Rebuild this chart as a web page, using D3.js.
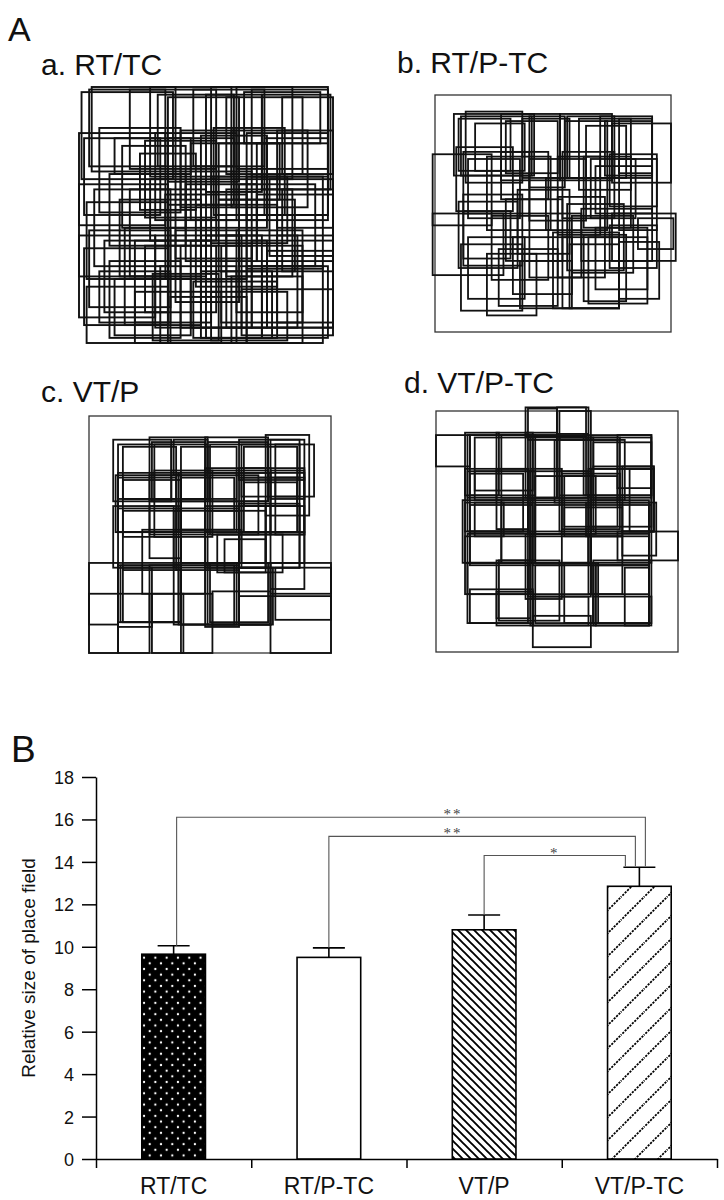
<!DOCTYPE html>
<html>
<head>
<meta charset="utf-8">
<script src="https://cdn.jsdelivr.net/npm/d3@7"></script>
<style>
body { margin: 0; background: #fff; }
svg text { font-family: "Liberation Sans", Arial, Helvetica, sans-serif; fill: #111; }
</style>
</head>
<body>
<svg id="fig" width="724" height="1200"></svg>
<script>
// ---------- B: bar chart data ----------
const groups = ['RT/TC', 'RT/P-TC', 'VT/P', 'VT/P-TC'];
const means = [9.65, 9.5, 10.8, 12.85];
const sems = [0.4, 0.45, 0.7, 0.9];
const yTicks = [0, 2, 4, 6, 8, 10, 12, 14, 16, 18];
// [from, to, bracket height, label]
const comparisons = [[0, 3, 16.1, '**'], [1, 3, 15.2, '**'], [2, 3, 14.3, '*']];

// ---------- A: place fields, [x, y, w, h] in % of the arena ----------
const titlesA = ['a. RT/TC', 'b. RT/P-TC', 'c. VT/P', 'd. VT/P-TC'];

const fieldsRTTC = [
  [1, 2, 36, 34], [4, 1, 30, 30], [28, 0, 32, 35], [35, 4, 28, 33], [45, 1, 28, 30], [50, 3, 22, 38],
  [62, 0, 36, 32], [65, 2, 30, 20], [72, 3, 27, 37], [80, 4, 20, 30],
  [0, 18, 34, 36], [2, 20, 30, 30], [14, 20, 30, 14], [17, 23, 25, 32], [24, 26, 22, 22], [30, 18, 32, 34],
  [35, 20, 26, 26], [40, 17, 22, 30], [48, 19, 26, 36], [55, 22, 24, 22], [60, 17, 30, 30], [66, 18, 32, 34],
  [70, 22, 28, 28], [78, 17, 22, 38],
  [0, 38, 35, 36], [3, 45, 32, 30], [12, 34, 30, 28], [20, 40, 30, 34], [28, 36, 26, 24], [34, 42, 32, 33],
  [42, 38, 28, 30], [46, 46, 32, 32], [52, 35, 30, 26], [58, 40, 26, 34], [63, 38, 30, 32], [70, 42, 30, 26],
  [75, 36, 25, 30],
  [0, 58, 30, 32], [2, 63, 33, 30], [10, 60, 25, 28], [18, 55, 30, 38], [26, 62, 28, 26], [30, 58, 34, 36],
  [38, 56, 25, 28], [44, 60, 30, 34], [50, 58, 22, 40], [56, 62, 32, 30], [62, 56, 26, 32], [68, 60, 32, 34],
  [74, 64, 26, 30],
  [3, 78, 32, 22], [8, 72, 28, 20], [14, 75, 30, 22], [22, 80, 34, 20], [29, 73, 26, 26], [36, 82, 30, 18],
  [45, 76, 33, 22], [52, 80, 30, 19], [60, 74, 28, 26], [64, 79, 36, 18], [72, 70, 26, 28],
  [5, 0, 33, 33], [20, 1, 34, 31], [31, 3, 30, 28], [52, 0, 32, 36], [58, 4, 30, 30], [68, 1, 30, 34],
  [8, 16, 32, 33], [26, 21, 28, 30], [44, 22, 30, 30], [53, 16, 28, 34], [73, 20, 25, 30],
  [6, 40, 30, 30], [16, 44, 32, 30], [38, 33, 30, 34], [55, 44, 30, 28], [66, 35, 30, 36], [80, 40, 20, 32],
  [4, 56, 32, 30], [22, 60, 30, 32], [40, 62, 28, 32], [58, 58, 28, 36], [78, 58, 22, 34],
  [12, 68, 28, 30], [32, 70, 30, 30], [48, 72, 28, 26], [66, 70, 30, 30]
];

const fieldsRTPTC = [
  [8, 8, 34, 26], [13, 7, 24, 30], [10, 10, 22, 22], [17, 12, 21, 20], [28, 8, 25, 28], [37, 10, 20, 25],
  [40, 9, 15, 30], [53, 8, 22, 28], [55, 11, 18, 24], [61, 10, 22, 30], [64, 13, 17, 22], [70, 9, 22, 26],
  [75, 12, 25, 25], [78, 10, 14, 23],
  [-1, 25, 25, 30], [9, 22, 24, 27], [14, 27, 22, 25], [22, 26, 27, 31], [28, 24, 20, 20], [40, 27, 24, 26],
  [47, 35, 26, 22], [52, 26, 18, 33], [63, 26, 20, 30], [66, 27, 19, 25], [74, 25, 20, 22], [78, 27, 16, 30],
  [-1, 50, 30, 26], [10, 45, 25, 28], [12, 49, 20, 20], [24, 51, 24, 27], [35, 40, 22, 27], [40, 50, 22, 27],
  [52, 43, 20, 34], [58, 51, 26, 24], [62, 48, 30, 22], [75, 50, 27, 20], [86, 52, 15, 13],
  [11, 63, 26, 28], [22, 67, 21, 26], [27, 65, 25, 24], [33, 60, 25, 24], [50, 58, 28, 32], [57, 63, 21, 27],
  [63, 59, 18, 28], [65, 60, 25, 28], [78, 62, 17, 24], [74, 55, 20, 18],
  [11, 9, 30, 25], [30, 11, 22, 22], [56, 9, 20, 26], [72, 11, 20, 23], [12, 24, 28, 26], [54, 24, 22, 28],
  [68, 30, 24, 20], [12, 42, 25, 30], [30, 44, 24, 26], [56, 46, 24, 28], [68, 56, 22, 26], [14, 60, 24, 26],
  [54, 60, 24, 30], [36, 70, 22, 20]
];

const fieldsVTP = [
  [10, 10, 24, 26], [14, 13, 22, 22], [12, 24, 25, 25], [25, 9, 24, 27], [27, 12, 22, 23], [35, 10, 14, 15],
  [38, 13, 23, 22], [48, 9, 26, 14], [50, 12, 24, 24], [62, 10, 25, 16], [64, 13, 22, 25], [73, 8, 18, 34],
  [77, 12, 16, 22], [62, 22, 27, 5],
  [11, 25, 27, 24], [14, 27, 24, 24], [25, 25, 23, 25], [27, 23, 24, 28], [38, 26, 22, 22], [48, 22, 27, 27],
  [50, 25, 20, 25], [62, 24, 27, 25], [64, 28, 22, 21], [75, 23, 14, 27], [77, 26, 12, 24],
  [10, 38, 25, 26], [14, 40, 24, 25], [22, 48, 26, 27], [25, 38, 13, 22], [35, 40, 27, 24], [38, 48, 25, 14],
  [48, 38, 25, 26], [53, 50, 27, 16], [56, 52, 17, 14], [62, 37, 25, 27], [73, 38, 16, 24], [75, 49, 14, 24],
  [0, 62, 12, 26], [12, 62, 26, 25], [14, 64, 24, 23], [25, 63, 13, 24], [35, 63, 25, 25], [38, 62, 23, 26],
  [48, 63, 14, 26], [50, 62, 24, 25], [62, 64, 14, 24], [75, 62, 25, 13], [77, 64, 23, 22],
  [0, 75, 12, 25], [12, 75, 13, 25], [26, 75, 13, 25], [38, 75, 13, 25], [75, 76, 25, 24], [62, 76, 13, 12],
  [12, 12, 22, 23], [26, 11, 22, 25], [49, 11, 25, 25], [63, 12, 24, 22], [75, 10, 14, 25], [12, 26, 24, 23],
  [37, 24, 24, 25], [49, 24, 26, 26], [63, 26, 24, 23], [12, 39, 25, 24], [36, 39, 26, 26], [49, 40, 24, 24],
  [63, 38, 24, 26], [13, 63, 24, 24], [37, 63, 25, 25], [49, 62, 26, 26], [12, 64, 14, 25], [51, 74, 24, 14]
];

const fieldsVTPTC = [
  [37, -1.5, 25, 12], [38, -1, 12, 13], [50, -1.5, 13, 11], [51, 0, 13, 12],
  [0, 10, 14, 13], [12, 9, 14, 26], [14, 10, 27, 25], [16, 11, 24, 22], [25, 9, 15, 28], [27, 10, 24, 26],
  [37, 9, 13, 27], [39, 11, 24, 25], [49, 12, 26, 26], [51, 11, 14, 24], [61, 10, 28, 25], [64, 12, 14, 25],
  [75, 10, 14, 22], [65, 13, 24, 23],
  [12, 24, 26, 26], [14, 26, 22, 24], [16, 25, 25, 12], [25, 24, 13, 25], [39, 24, 13, 27], [41, 27, 25, 24],
  [51, 25, 12, 25], [53, 27, 22, 21], [63, 24, 26, 24], [65, 23, 25, 27], [77, 23, 13, 27], [80, 24, 10, 26],
  [11, 37, 16, 26], [14, 39, 26, 24], [16, 38, 12, 14], [27, 38, 14, 25], [39, 38, 25, 25], [41, 39, 22, 24],
  [53, 40, 24, 12], [62, 38, 26, 14], [64, 37, 24, 27], [77, 38, 14, 22], [75, 50, 25, 12],
  [12, 52, 27, 24], [14, 50, 25, 14], [25, 62, 14, 24], [26, 62, 25, 25], [37, 51, 15, 27], [39, 52, 25, 24],
  [41, 64, 24, 24], [53, 63, 14, 25], [63, 52, 14, 24], [65, 62, 24, 26], [66, 64, 22, 25], [78, 65, 10, 24],
  [14, 74, 26, 14], [25, 75, 15, 14], [39, 77, 24, 12], [40, 85, 24, 13], [65, 77, 24, 12],
  [13, 10, 26, 26], [38, 10, 25, 26], [50, 11, 26, 25], [62, 11, 27, 24], [13, 25, 26, 25], [38, 25, 26, 26],
  [52, 26, 24, 23], [64, 24, 25, 26], [12, 38, 27, 25], [40, 37, 24, 27], [63, 39, 26, 24], [13, 51, 26, 25],
  [38, 50, 26, 27], [64, 51, 24, 25], [13, 63, 25, 25], [40, 63, 26, 26], [65, 64, 23, 24]
];

const svg = d3.select('#fig');

// ---------- panel A ----------
svg.append('text').attr('x', 8).attr('y', 41).style('font-size', '34px').text('A');

// box = arena in pixels [x0, y0, x1, y1]; title anchor
const panels = [
  { title: titlesA[0], fields: fieldsRTTC, box: [79, 87, 333, 343], frame: false, tx: 41, ty: 75, sw: 1.9 },
  { title: titlesA[1], fields: fieldsRTPTC, box: [435, 95, 671, 332], frame: true, tx: 397, ty: 73, sw: 1.8 },
  { title: titlesA[2], fields: fieldsVTP, box: [89, 416, 331, 653], frame: true, tx: 41, ty: 402, sw: 1.8 },
  { title: titlesA[3], fields: fieldsVTPTC, box: [436, 411, 678, 652], frame: true, tx: 404, ty: 393, sw: 1.8 }
];

panels.forEach(p => {
  const sx = d3.scaleLinear().domain([0, 100]).range([p.box[0], p.box[2]]);
  const sy = d3.scaleLinear().domain([0, 100]).range([p.box[1], p.box[3]]);
  const g = svg.append('g');

  g.append('text').attr('x', p.tx).attr('y', p.ty).style('font-size', '30px').text(p.title);

  if (p.frame) {
    g.append('rect')
      .attr('x', sx(0)).attr('y', sy(0))
      .attr('width', sx(100) - sx(0)).attr('height', sy(100) - sy(0))
      .attr('fill', 'none').attr('stroke', '#333').attr('stroke-width', 1.3);
  }

  g.selectAll('rect.field')
    .data(p.fields)
    .join('rect')
    .attr('class', 'field')
    .attr('x', d => sx(d[0]))
    .attr('y', d => sy(d[1]))
    .attr('width', d => sx(d[0] + d[2]) - sx(d[0]))
    .attr('height', d => sy(d[1] + d[3]) - sy(d[1]))
    .attr('fill', 'none')
    .attr('stroke', '#111')
    .attr('stroke-width', p.sw);
});

// ---------- panel B ----------
svg.append('text').attr('x', 11).attr('y', 762).style('font-size', '37px').text('B');

const defs = svg.append('defs');
const dots = defs.append('pattern').attr('id', 'dots')
  .attr('patternUnits', 'userSpaceOnUse').attr('width', 11.3).attr('height', 11.3);
dots.append('rect').attr('width', 11.3).attr('height', 11.3).attr('fill', '#000');
dots.append('circle').attr('cx', 2.8).attr('cy', 2.8).attr('r', 1.15).attr('fill', '#fff');
dots.append('circle').attr('cx', 8.45).attr('cy', 8.45).attr('r', 1.15).attr('fill', '#fff');

const back = defs.append('pattern').attr('id', 'back')
  .attr('patternUnits', 'userSpaceOnUse').attr('width', 8).attr('height', 8);
back.append('rect').attr('width', 8).attr('height', 8).attr('fill', '#fff');
back.append('path').attr('d', 'M-2,-2L10,10M-2,6L2,10M6,-2L10,2')
  .attr('stroke', '#000').attr('stroke-width', 1.9);

const fwd = defs.append('pattern').attr('id', 'fwd')
  .attr('patternUnits', 'userSpaceOnUse').attr('width', 23).attr('height', 23);
fwd.append('rect').attr('width', 23).attr('height', 23).attr('fill', '#fff');
fwd.append('path').attr('d', 'M-1,24L24,-1M-5,5L5,-5M18,28L28,18')
  .attr('stroke', '#000').attr('stroke-width', 1.8).attr('stroke-dasharray', '2.2,1.2');

const fills = ['url(#dots)', '#fff', 'url(#back)', 'url(#fwd)'];

const y = d3.scaleLinear().domain([0, 18]).range([1159, 777]);
const x = d3.scaleBand().domain(groups).range([96, 717]);
const xi = d3.scaleLinear().domain([0, groups.length]).range([96, 717]);
const cx = i => x(groups[i]) + x.bandwidth() / 2;
const barW = x.bandwidth() * 0.41;

// y axis
const yAxis = svg.append('g')
  .attr('transform', 'translate(96,0)')
  .call(d3.axisLeft(y).tickValues(yTicks).tickSize(14).tickPadding(8).tickSizeOuter(0));
yAxis.selectAll('text').style('font-size', '18px').style('font-family', '"Liberation Sans", Arial, sans-serif').attr('dy', '0.36em');
yAxis.selectAll('line, path').attr('stroke', '#000').attr('stroke-width', 1.5);

// x axis (ticks between groups)
const xAxis = svg.append('g')
  .attr('transform', 'translate(0,1159)')
  .call(d3.axisBottom(xi).ticks(groups.length).tickFormat('').tickSize(9).tickSizeOuter(0));
xAxis.selectAll('line, path').attr('stroke', '#000').attr('stroke-width', 1.5);

svg.selectAll('text.xlab')
  .data(groups)
  .join('text')
  .attr('class', 'xlab')
  .attr('x', (d, i) => cx(i))
  .attr('y', 1194)
  .attr('text-anchor', 'middle')
  .style('font-size', '23px')
  .text(d => d);

svg.append('text')
  .attr('transform', 'translate(35,968) rotate(-90)')
  .attr('text-anchor', 'middle')
  .style('font-size', '19px')
  .text('Relative size of place field');

// bars
svg.selectAll('rect.bar')
  .data(means)
  .join('rect')
  .attr('class', 'bar')
  .attr('x', (d, i) => cx(i) - barW / 2)
  .attr('y', d => y(d))
  .attr('width', barW)
  .attr('height', d => y(0) - y(d))
  .attr('fill', (d, i) => fills[i])
  .attr('stroke', '#000')
  .attr('stroke-width', 1.6);

// error bars
const eb = svg.append('g').attr('stroke', '#000').attr('stroke-width', 1.6);
means.forEach((m, i) => {
  eb.append('line').attr('x1', cx(i)).attr('x2', cx(i)).attr('y1', y(m)).attr('y2', y(m + sems[i]));
  eb.append('line').attr('x1', cx(i) - 16).attr('x2', cx(i) + 16).attr('y1', y(m + sems[i])).attr('y2', y(m + sems[i]));
});

// significance brackets
comparisons.forEach((c, k) => {
  const [a, b, level, lab] = c;
  const xl = cx(a) + (k === 0 ? 3 : 0);
  const xr = cx(b) + 6 - 10 * k;
  svg.append('path')
    .attr('d', `M${xl},${y(means[a] + sems[a])}V${y(level)}H${xr}V${y(means[b] + sems[b]) - 1}`)
    .attr('fill', 'none').attr('stroke', '#555').attr('stroke-width', 1.1);
  const lx = k < 2 ? cx(b) - 1.2 * x.bandwidth() : (xl + xr) / 2;
  svg.append('text')
    .attr('x', lx).attr('y', y(level) + 2)
    .attr('text-anchor', 'middle')
    .style('font-family', '"Liberation Serif", "DejaVu Serif", serif')
    .style('font-size', '15px').style('fill', '#444').style('letter-spacing', '2px')
    .text(lab);
});
</script>
</body>
</html>
